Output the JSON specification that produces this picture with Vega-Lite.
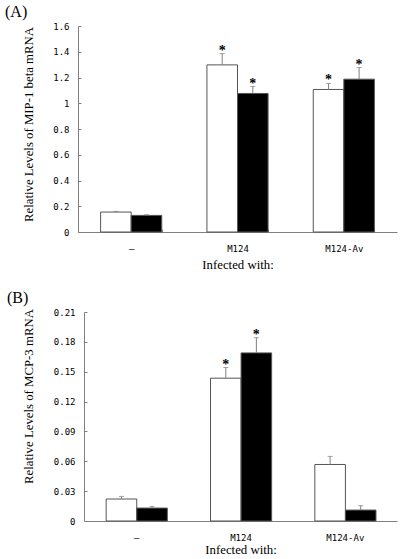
{
  "$schema": "https://vega.github.io/schema/vega-lite/v6.json",
  "background": "white",
  "padding": {"left": 5, "top": 4, "right": 6, "bottom": 0},
  "spacing": 19,
  "columns": 1,
  "config": {
    "view": {"stroke": null},
    "axis": {
      "domainColor": "#808080",
      "tickColor": "#808080",
      "grid": false,
      "labelOverlap": false,
      "labelBound": false,
      "labelFlush": false,
      "labelFont": "DejaVu Sans Mono",
      "labelFontSize": 9,
      "labelColor": "black",
      "titleFont": "Liberation Serif",
      "titleFontSize": 12.8,
      "titleFontWeight": "normal",
      "titleColor": "black"
    },
    "title": {"font": "Liberation Serif", "fontSize": 16, "fontWeight": "normal", "anchor": "start", "frame": "group", "color": "black"}
  },
  "datasets": {
    "mip": [
      {"cat": "–", "series": "open", "value": 0.155, "err": 0.16, "sig": false},
      {"cat": "–", "series": "filled", "value": 0.129, "err": 0.134, "sig": false},
      {"cat": "M124", "series": "open", "value": 1.298, "err": 1.386, "sig": true},
      {"cat": "M124", "series": "filled", "value": 1.076, "err": 1.13, "sig": true},
      {"cat": "M124-Av", "series": "open", "value": 1.107, "err": 1.154, "sig": true},
      {"cat": "M124-Av", "series": "filled", "value": 1.187, "err": 1.277, "sig": true}
    ],
    "mcp": [
      {"cat": "–", "series": "open", "value": 0.0221, "err": 0.0247, "sig": false},
      {"cat": "–", "series": "filled", "value": 0.013, "err": 0.0147, "sig": false},
      {"cat": "M124", "series": "open", "value": 0.1435, "err": 0.1542, "sig": true},
      {"cat": "M124", "series": "filled", "value": 0.1689, "err": 0.1842, "sig": true},
      {"cat": "M124-Av", "series": "open", "value": 0.0568, "err": 0.0649, "sig": false},
      {"cat": "M124-Av", "series": "filled", "value": 0.011, "err": 0.0154, "sig": false}
    ]
  },
  "concat": [
    {
      "title": {"text": "(A)", "dx": -73, "offset": 2},
      "width": 319,
      "height": 206,
      "data": {"name": "mip"},
      "encoding": {
        "x": {
          "field": "cat", "type": "nominal", "sort": null,
          "scale": {"paddingInner": 0.425, "paddingOuter": 0.2125},
          "axis": {"title": "Infected with:", "labelAngle": 0, "tickBand": "extent", "tickSize": -3, "labelPadding": 15, "titlePadding": 5}
        },
        "xOffset": {"field": "series", "type": "nominal", "sort": ["open", "filled"], "scale": {"paddingInner": 0, "paddingOuter": 0}}
      },
      "layer": [
        {
          "mark": {"type": "bar", "stroke": "#555555", "strokeWidth": 1},
          "encoding": {
            "y": {"field": "value", "type": "quantitative", "scale": {"domain": [0, 1.6], "nice": false},
              "axis": {"title": "Relative Levels of MIP-1 beta mRNA", "values": [0, 0.2, 0.4, 0.6, 0.8, 1, 1.2, 1.4, 1.6], "tickCount": 20, "labelExpr": "'' + datum.value", "labelOverlap": false, "tickSize": -3, "labelPadding": 12, "titleX": -43, "titleY": 98}},
            "fill": {"field": "series", "type": "nominal", "scale": {"domain": ["open", "filled"], "range": ["white", "black"]}, "legend": null}
          }
        },
        {
          "mark": {"type": "rule", "color": "#808080", "strokeWidth": 1},
          "encoding": {"y": {"field": "value", "type": "quantitative"}, "y2": {"field": "err"}}
        },
        {
          "mark": {"type": "tick", "color": "#808080", "thickness": 1, "size": 5, "orient": "horizontal"},
          "encoding": {"y": {"field": "err", "type": "quantitative"}}
        },
        {
          "transform": [{"filter": "datum.sig"}],
          "mark": {"type": "text", "text": "*", "font": "Liberation Serif", "fontSize": 14, "fontWeight": "bold", "baseline": "alphabetic", "dy": 1, "color": "black"},
          "encoding": {"y": {"field": "err", "type": "quantitative"}}
        }
      ]
    },
    {
      "title": {"text": "(B)", "dx": -71, "offset": 2},
      "width": 319,
      "height": 209,
      "data": {"name": "mcp"},
      "encoding": {
        "x": {
          "field": "cat", "type": "nominal", "sort": null,
          "scale": {"range": [6, 319], "paddingInner": 0.425, "paddingOuter": 0.2125},
          "axis": {"title": "Infected with:", "labelAngle": 0, "tickBand": "extent", "tickSize": -3, "labelPadding": 15, "titlePadding": 1}
        },
        "xOffset": {"field": "series", "type": "nominal", "sort": ["open", "filled"], "scale": {"paddingInner": 0, "paddingOuter": 0}}
      },
      "layer": [
        {
          "mark": {"type": "bar", "stroke": "#555555", "strokeWidth": 1},
          "encoding": {
            "y": {"field": "value", "type": "quantitative", "scale": {"domain": [0, 0.21], "nice": false},
              "axis": {"title": "Relative Levels of MCP-3 mRNA", "values": [0, 0.03, 0.06, 0.09, 0.12, 0.15, 0.18, 0.21], "tickCount": 20, "labelExpr": "'' + datum.value", "labelOverlap": false, "offset": -6, "tickSize": -3, "labelPadding": 12, "titleX": -48.5, "titleY": 84}},
            "fill": {"field": "series", "type": "nominal", "scale": {"domain": ["open", "filled"], "range": ["white", "black"]}, "legend": null}
          }
        },
        {
          "mark": {"type": "rule", "color": "#808080", "strokeWidth": 1},
          "encoding": {"y": {"field": "value", "type": "quantitative"}, "y2": {"field": "err"}}
        },
        {
          "mark": {"type": "tick", "color": "#808080", "thickness": 1, "size": 5, "orient": "horizontal"},
          "encoding": {"y": {"field": "err", "type": "quantitative"}}
        },
        {
          "transform": [{"filter": "datum.sig"}],
          "mark": {"type": "text", "text": "*", "font": "Liberation Serif", "fontSize": 14, "fontWeight": "bold", "baseline": "alphabetic", "dy": 1, "color": "black"},
          "encoding": {"y": {"field": "err", "type": "quantitative"}}
        }
      ]
    }
  ]
}
